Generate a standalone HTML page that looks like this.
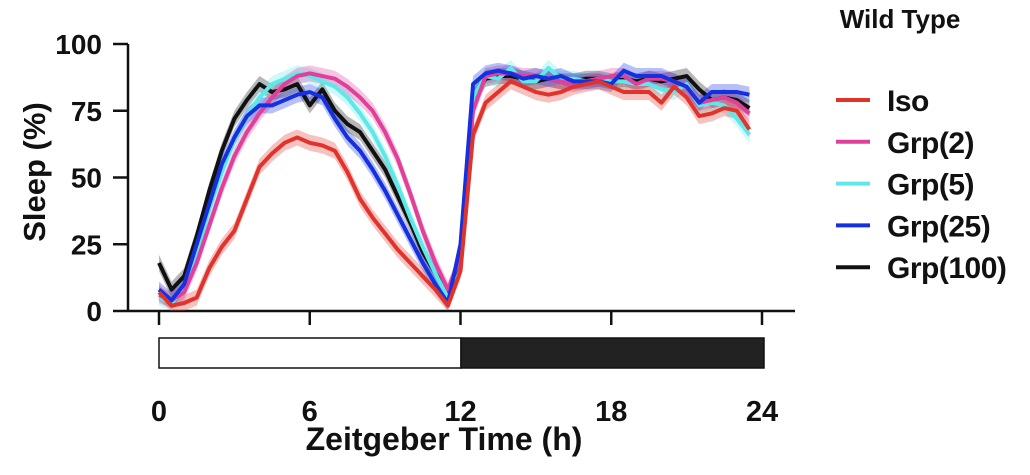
<!DOCTYPE html>
<html><head><meta charset="utf-8"><style>
body{margin:0;background:#fff;}
svg text{font-family:"Liberation Sans",Arial,sans-serif;font-weight:bold;fill:#111;}
</style></head><body>
<svg id="chart" width="1030" height="470" viewBox="0 0 1030 470">
<text x="900" y="28" font-size="26" text-anchor="middle">Wild Type</text>
<g id="axes"></g>
<g id="bands"></g>
<g id="lines"></g>
<g id="legend"></g>
<rect x="159" y="338" width="302" height="30" fill="#fff" stroke="#111" stroke-width="1.5"/>
<rect x="461" y="338" width="303" height="30" fill="#222" stroke="#111" stroke-width="1.5"/>
<text x="444" y="450" font-size="32" text-anchor="middle">Zeitgeber Time (h)</text>
<text transform="translate(45,172) rotate(-90)" font-size="31" text-anchor="middle">Sleep (%)</text>
</svg>
<script>
const xTicks=[0,6,12,18,24];
const yTicks=[0,25,50,75,100];
const seriesNames=["Iso","Grp(2)","Grp(5)","Grp(25)","Grp(100)"];
const seriesColors=["#e0332b","#e0409a","#5ee8ea","#1530e0","#111111"];
const iso=[7,2,3,5,16,24,30,42,54,59,63,65,63,62,60,52,42,35,29,23,18,13,8,2,15,66,78,82,86,84,82,81,82,84,85,86,84,82,82,82,78,84,80,73,74,76,75,68];
const grp2=[6,4,7,18,32,46,58,67,74,80,85,88,89,88,87,84,80,75,67,57,44,30,18,8,20,75,88,89,89,88,88,87,86,85,86,87,88,88,85,87,87,86,84,78,79,80,78,74];
const grp5=[5,3,8,22,38,52,64,73,80,85,87,89,88,86,84,80,74,67,58,47,35,24,14,5,15,80,88,87,91,86,86,91,87,87,86,87,86,86,85,85,83,82,85,77,78,77,72,66];
const grp25=[8,4,10,25,40,55,65,73,77,77,79,81,82,80,72,65,60,53,45,36,27,18,10,3,25,85,89,90,89,87,88,87,88,86,86,86,85,90,88,88,88,86,84,78,82,82,82,81];
const grp100=[18,8,13,28,45,60,72,79,85,82,83,85,77,83,75,70,67,60,53,43,33,22,14,7,20,80,87,88,88,87,86,87,86,86,87,87,86,87,86,87,86,87,88,83,79,80,79,76];
const allSeries=[iso,grp2,grp5,grp25,grp100];
const NS="http://www.w3.org/2000/svg";
function xs(t){return 159+(t/24)*603;}
function ys(v){return 311-(v/100)*267;}
function mk(tag,attrs,parent){const e=document.createElementNS(NS,tag);for(const k in attrs)e.setAttribute(k,attrs[k]);parent.appendChild(e);return e;}
const axes=document.getElementById('axes');
let e=mk('line',{x1:128,y1:44,x2:128,y2:311,stroke:'#111','stroke-width':2.5},axes);


e=mk('line',{x1:128,y1:311,x2:795,y2:311,stroke:'#111','stroke-width':2.5},axes);


yTicks.forEach(v=>{
 const t=mk('line',{x1:113,y1:ys(v),x2:128,y2:ys(v),stroke:'#111','stroke-width':2.5},axes);
 
 
 const l=mk('text',{x:102,y:ys(v)+10,'font-size':28,'text-anchor':'end'},axes);l.textContent=v;
 
 
});
xTicks.forEach(v=>{
 const t=mk('line',{x1:xs(v),y1:311,x2:xs(v),y2:325,stroke:'#111','stroke-width':2.5},axes);
 
 
 const l=mk('text',{x:xs(v),y:421,'font-size':29,'text-anchor':'middle'},axes);l.textContent=v;
 
 
});
const bands=document.getElementById('bands'),lines=document.getElementById('lines');
const order=[4,2,1,3,0];
order.forEach(si=>{
 const d=allSeries[si];
 const up=d.map((v,i)=>xs(i*0.5)+','+ys(Math.min(100,v+3)));
 const dn=d.map((v,i)=>xs(i*0.5)+','+ys(Math.max(0,v-3))).reverse();
 const b=mk('polygon',{points:up.concat(dn).join(' '),fill:seriesColors[si],opacity:0.3},bands);
 
 
 const p=mk('polyline',{points:d.map((v,i)=>xs(i*0.5)+','+ys(v)).join(' '),fill:'none',stroke:seriesColors[si],'stroke-width':4,'stroke-linejoin':'round'},lines);
 
 
});
const leg=document.getElementById('legend');
seriesNames.forEach((n,i)=>{
 const y=100+i*41.8;
 const l=mk('line',{x1:836,y1:y,x2:870,y2:y,stroke:seriesColors[i],'stroke-width':4},leg);
 
 
 const t=mk('text',{x:887,y:y+11,'font-size':30,'letter-spacing':'-0.5'},leg);t.textContent=n;
 
 
});
</script>
</body></html>
